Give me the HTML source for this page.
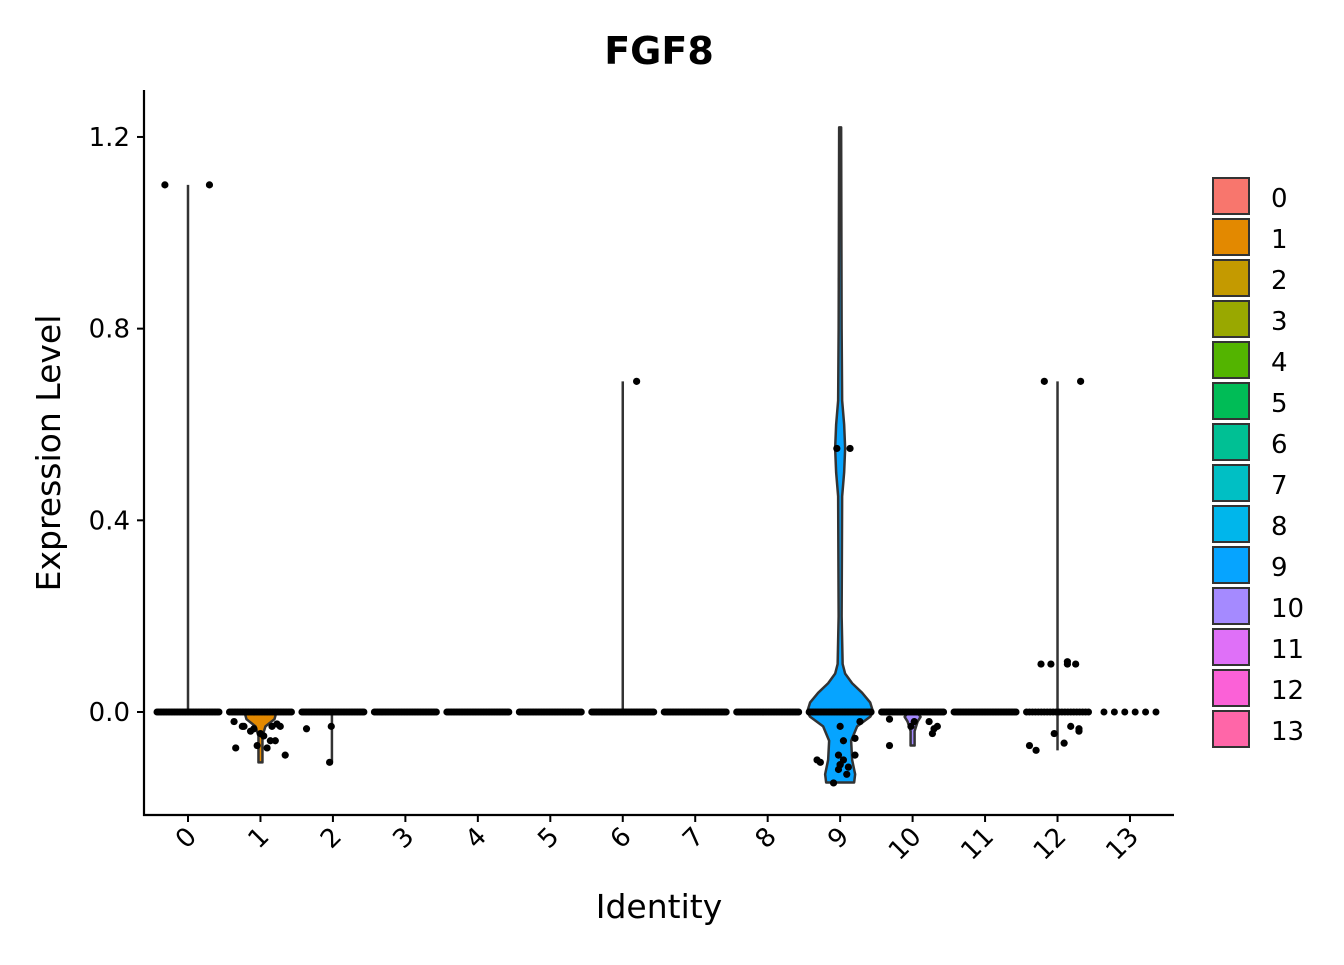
<!DOCTYPE html>
<html><head><meta charset="utf-8"><style>
body{margin:0;background:#fff;}
text{font-family:"DejaVu Sans","Liberation Sans",sans-serif;}
</style></head><body>
<svg id="chart" width="1344" height="960" xmlns="http://www.w3.org/2000/svg">
<text x="659" y="64" text-anchor="middle" font-size="38" font-weight="bold">FGF8</text>
<g id="plot"></g>
<line x1="144" y1="90" x2="144" y2="816" stroke="#000" stroke-width="2.2"/>
<line x1="143" y1="815" x2="1174" y2="815" stroke="#000" stroke-width="2.2"/>
<g id="axes"></g>
<text x="659" y="918" text-anchor="middle" font-size="33">Identity</text>
<text transform="translate(60,453) rotate(-90)" text-anchor="middle" font-size="33">Expression Level</text>
<g id="legend"></g>
</svg>
<script>
const categories=["0","1","2","3","4","5","6","7","8","9","10","11","12","13"];
const colors=["#F8766D","#E38900","#C49A00","#99A800","#53B400","#00BC56","#00C094","#00BFC4","#00B6EB","#06A4FF","#A58AFF","#DF70F8","#FB61D7","#FF66A8"];
const yTicks=[0,0.4,0.8,1.2];
const yTickLabels=["0.0","0.4","0.8","1.2"];
const vMin=[0,-0.105,-0.105,0,0,0,0,0,0,-0.147,-0.07,0,-0.08,0];
const vMax=[1.1,0,0.005,0,0,0,0.69,0,0,1.22,0,0,0.69,0];
const bandCount=[40,40,40,40,40,40,40,40,40,40,40,40,22,6];
const v9Levels=[-0.147,-0.13,-0.1,-0.06,-0.03,-0.01,0,0.02,0.04,0.06,0.08,0.1,0.2,0.45,0.5,0.55,0.6,0.65,0.8,1.22];
const v9Width=[14,15,12,11,17,30,33,30,22,12,5,2.5,1.5,2,4,5,4,2,1.5,1];
const v1Levels=[-0.105,-0.05,-0.03,-0.015,0];
const v1Width=[2,2,5,14,16];
const v10Levels=[-0.07,-0.04,-0.02,-0.01,0];
const v10Width=[2,2,5,8,4];
const ptCluster=[0,0,1,1,1,1,1,1,1,1,1,1,1,1,1,1,1,1,2,2,2,6,9,9,9,9,9,9,9,9,9,9,9,9,9,9,9,9,9,10,10,10,10,10,10,10,10,12,12,12,12,12,12,12,12,12,12,12,12,12,12];
const ptJitter=[-0.7,0.65,-0.8,-0.5,0.6,-0.3,0.1,0.3,-0.1,0.45,-0.75,0.2,0.75,0.0,-0.55,0.35,-0.2,0.5,-0.8,-0.05,-0.1,0.42,-0.1,0.3,-0.7,-0.6,0.45,0.1,0.1,0.0,-0.05,0.2,0.25,0.0,-0.2,0.6,0.0,-0.05,0.45,-0.7,-0.7,0.6,0.75,0.5,0.65,-0.05,0.05,-0.4,0.7,-0.5,-0.2,0.3,0.3,0.55,-0.85,-0.65,-0.1,0.2,0.65,0.65,0.4];
const ptValue=[1.1,1.1,-0.02,-0.03,-0.03,-0.04,-0.05,-0.06,-0.07,-0.06,-0.075,-0.075,-0.09,-0.045,-0.03,-0.03,-0.035,-0.025,-0.035,-0.03,-0.105,0.69,0.55,0.55,-0.1,-0.105,-0.09,-0.06,-0.1,-0.11,-0.12,-0.13,-0.115,-0.11,-0.148,-0.02,-0.03,-0.09,-0.055,-0.015,-0.07,-0.045,-0.03,-0.02,-0.035,-0.03,-0.02,0.69,0.69,0.1,0.1,0.1,0.105,0.1,-0.07,-0.08,-0.045,-0.065,-0.04,-0.035,-0.03];
const NS="http://www.w3.org/2000/svg";
const X=i=>188+i*72.46;
const Y=v=>712-v*479.2;
function mk(tag,attrs,parent){const e=document.createElementNS(NS,tag);for(const k in attrs)e.setAttribute(k,attrs[k]);parent.appendChild(e);return e;}
const plot=document.getElementById('plot'),axes=document.getElementById('axes'),legend=document.getElementById('legend');
function violin(i,levels,widths){
  let l=[],r=[];
  levels.forEach((v,k)=>{r.push((X(i)+widths[k])+","+Y(v));l.unshift((X(i)-widths[k])+","+Y(v));});
  const p=mk('polygon',{points:r.concat(l).join(' '),fill:colors[i],stroke:'#333',"stroke-width":2.5,"stroke-linejoin":"round"},plot);
  
  
}
categories.forEach((c,i)=>{
  if(i===9)violin(9,v9Levels,v9Width);
  else if(i===1)violin(1,v1Levels,v1Width);
  else if(i===10)violin(10,v10Levels,v10Width);
  else{
    const ln=mk('line',{x1:X(i)+(i===2?-1:0),x2:X(i)+(i===2?-1:0),y1:Y(vMax[i]),y2:Y(vMin[i]),stroke:'#333',"stroke-width":2.5},plot);
    
    
    if(i===12){const h=mk('line',{x1:X(i)-33,x2:X(i)+33,y1:Y(0),y2:Y(0),stroke:'#333',"stroke-width":2.5},plot);
      }
  }
  const n=bandCount[i];
  const w=(i===13)?26:31;
  for(let k=0;k<n;k++){
    const dx=-w+2*w*k/(n-1);
    const d=mk('circle',{cx:X(i)+dx,cy:Y(0),r:3.5,fill:'#000'},plot);
    
    
  }
  const t=mk('text',{transform:`translate(${X(i)+10},${838}) rotate(-45)`,"text-anchor":"end","font-size":26,fill:'#000'},axes);
  t.textContent=c;
  
  
  const tk=mk('line',{x1:X(i),x2:X(i),y1:815,y2:822,stroke:'#000',"stroke-width":2},axes);
  
  
  const ly=178+i*41;
  const b=mk('rect',{x:1213,y:ly,width:36,height:36,fill:colors[i],stroke:'#333',"stroke-width":2},legend);
  
  
  const lt=mk('text',{x:1271,y:ly+29,"font-size":26},legend);
  lt.textContent=c;
  
  
});
ptValue.forEach((v,k)=>{
  const d=mk('circle',{cx:X(ptCluster[k])+ptJitter[k]*33,cy:Y(v),r:3.6,fill:'#000'},plot);
  
  
});
yTicks.forEach((v,k)=>{
  const tk=mk('line',{x1:137,x2:144,y1:Y(v),y2:Y(v),stroke:'#000',"stroke-width":2},axes);
  
  
  const t=mk('text',{x:130,y:Y(v)+9,"text-anchor":"end","font-size":26},axes);
  t.textContent=yTickLabels[k];
  
  
});
</script>
</body></html>
